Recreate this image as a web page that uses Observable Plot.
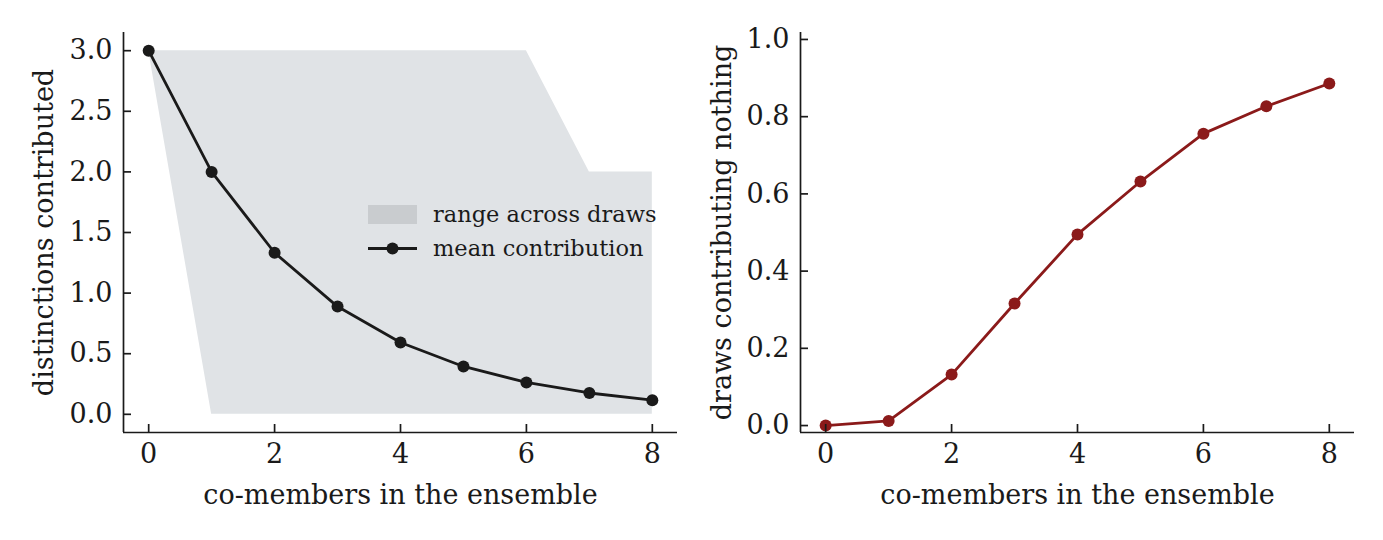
<!DOCTYPE html>
<html>
<head>
<meta charset="utf-8">
<script src="https://cdn.jsdelivr.net/npm/d3@7"></script>
<script src="https://cdn.jsdelivr.net/npm/@observablehq/plot@0.6"></script>
<style>
  body { margin: 0; background: #fff; }
  #wrap { position: relative; width: 1383px; height: 540px; font-family: "DejaVu Serif", serif; }
  #left, #right { position: absolute; top: 0; }
  #left { left: 0; }
  #right { left: 691px; }
  #legend { position: absolute; left: 368px; top: 197px; font-size: 22.5px; color: #1a1a1a; line-height: 1; }
  .row { display: flex; align-items: center; height: 34px; white-space: nowrap; }
  .sw { width: 49px; height: 19px; margin-right: 16px; flex: none; }
</style>
</head>
<body>
<div id="wrap">
  <div id="left"></div>
  <div id="right"></div>
  <div id="legend"></div>
</div>
<script>
// data
const members = [0, 1, 2, 3, 4, 5, 6, 7, 8];
const meanContribution = [3.0, 2.0, 1.333, 0.889, 0.593, 0.395, 0.263, 0.176, 0.117];
const rangeMin = [3.0, 0, 0, 0, 0, 0, 0, 0, 0];
const rangeMax = [3.0, 3.0, 3.0, 3.0, 3.0, 3.0, 3.0, 2.0, 2.0];
const fracNothing = [0.0, 0.012, 0.132, 0.316, 0.495, 0.632, 0.756, 0.827, 0.886];
const xTicks = [0, 2, 4, 6, 8];
const yTicksLeft = [0, 0.5, 1.0, 1.5, 2.0, 2.5, 3.0];
const yTicksRight = [0, 0.2, 0.4, 0.6, 0.8, 1.0];
const legendLabels = ["range across draws", "mean contribution"];

const BLACK = "#1a1a1a";
const BAND = "#e0e3e6";
const RED = "#8b1a1a";
const FONT = "DejaVu Serif";
const FS = 27;

const left = members.map((m, i) => ({x: m, mean: meanContribution[i], lo: rangeMin[i], hi: rangeMax[i]}));
const right = members.map((m, i) => ({x: m, y: fracNothing[i]}));

function axes(xDomain, yDomain, yTicks, yFormat, yLabel, yLabelOffset) {
  return [
    Plot.ruleX([xDomain[0]], {stroke: BLACK, strokeWidth: 1.7}),
    Plot.ruleY([yDomain[0]], {stroke: BLACK, strokeWidth: 1.7}),
    Plot.axisX({ticks: xTicks, tickSize: 8, text: null, dy: -8, strokeWidth: 1.7, stroke: BLACK, label: null}),
    Plot.axisY({ticks: yTicks, tickSize: 8, text: null, dx: 8, strokeWidth: 1.7, stroke: BLACK, label: null}),
    Plot.axisX({ticks: xTicks, tickSize: 0, tickPadding: 11, fontSize: FS, fill: BLACK,
      label: "co-members in the ensemble", labelAnchor: "center", labelArrow: "none", labelOffset: 71}),
    Plot.axisY({ticks: yTicks, tickSize: 0, tickPadding: 11, fontSize: FS, fill: BLACK, tickFormat: yFormat,
      label: yLabel, labelAnchor: "center", labelArrow: "none", labelOffset: yLabelOffset})
  ];
}

const xDom = [-0.4, 8.4];
const yDomL = [-0.15, 3.15];
const plotL = Plot.plot({
  width: 691, height: 540,
  marginLeft: 123, marginRight: 14, marginTop: 32, marginBottom: 108,
  style: {fontFamily: FONT, fontSize: FS + "px", color: BLACK, background: "transparent"},
  x: {domain: xDom},
  y: {domain: yDomL},
  marks: [
    Plot.areaY(left, {x: "x", y1: "lo", y2: "hi", fill: BAND, curve: "linear"}),
    Plot.line(left, {x: "x", y: "mean", stroke: BLACK, strokeWidth: 2.8}),
    Plot.dot(left, {x: "x", y: "mean", fill: BLACK, r: 6}),
    ...axes(xDom, yDomL, yTicksLeft, d3.format(".1f"), "distinctions contributed", 90)
  ]
});
document.getElementById("left").appendChild(plotL);

const yDomR = [-0.018, 1.018];
const plotR = Plot.plot({
  width: 692, height: 540,
  marginLeft: 109, marginRight: 29, marginTop: 32, marginBottom: 108,
  style: {fontFamily: FONT, fontSize: FS + "px", color: BLACK, background: "transparent"},
  x: {domain: xDom},
  y: {domain: yDomR},
  marks: [
    Plot.line(right, {x: "x", y: "y", stroke: RED, strokeWidth: 2.8}),
    Plot.dot(right, {x: "x", y: "y", fill: RED, r: 6}),
    ...axes(xDom, yDomR, yTicksRight, d3.format(".1f"), "draws contributing nothing", 89)
  ]
});
document.getElementById("right").appendChild(plotR);

// legend
const lg = document.getElementById("legend");
lg.innerHTML = `
  <div class="row"><div class="sw" style="background:#c9cccf"></div><span>${legendLabels[0]}</span></div>
  <div class="row"><svg width="49" height="19" style="margin-right:16px;flex:none"><line x1="0" x2="49" y1="9.5" y2="9.5" stroke="${BLACK}" stroke-width="2.8"/><circle cx="24.5" cy="9.5" r="6" fill="${BLACK}"/></svg><span>${legendLabels[1]}</span></div>`;
</script>
</body>
</html>
